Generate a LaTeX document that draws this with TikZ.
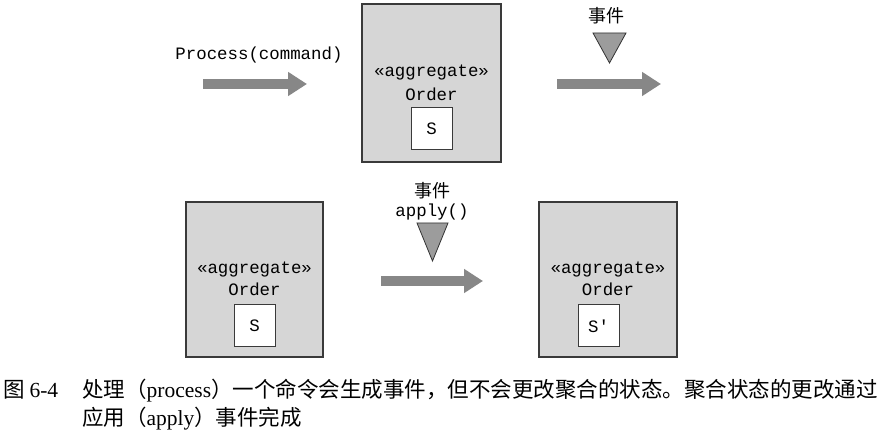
\documentclass[tikz,border=0pt]{standalone}
\usepackage{fontspec}
\setmainfont{Liberation Serif}
\setmonofont{Liberation Mono}
\newfontfamily\cjk{Noto Sans CJK SC}
\usetikzlibrary{arrows.meta}
\definecolor{boxgray}{HTML}{D6D6D6}
\definecolor{boxline}{HTML}{3A3A3A}
\definecolor{arrowgray}{HTML}{878787}
\definecolor{trigray}{HTML}{9C9C9C}
\begin{document}
\begin{tikzpicture}[x=1pt,y=-1pt,
  agg/.style={draw=boxline, fill=boxgray, line width=1.2pt, inner sep=0pt},
  statebox/.style={draw=boxline, fill=white, line width=1pt, minimum width=41pt, minimum height=42pt, inner sep=0pt,
    font=\ttfamily\fontsize{17.4}{20}\selectfont},
  mono/.style={inner sep=0pt, font=\ttfamily\fontsize{17.4}{20}\selectfont},
  evlabel/.style={inner sep=0pt, font=\cjk\fontsize{18}{20}\selectfont},
  fat/.style={draw=arrowgray, line width=10pt, -{Triangle[width=23pt,length=19pt]}},
  tri/.style={draw=black!80, fill=trigray, line width=0.8pt, line join=miter},
  captext/.style={inner sep=0pt, anchor=base west, font=\cjk\fontsize{21.5}{24}\selectfont}
]
\useasboundingbox (0,0) rectangle (891,443);

% top row
\node[agg, minimum width=139pt, minimum height=158pt] (topbox) at (431.5,83) {};
\node[mono] (topstereo) at (431.5,73) {«aggregate»};
\node[mono] (toporder) at (431.5,94) {Order};
\node[statebox] (tops) at (431.5,129) {S};

\node[mono] (cmd) at (259,55) {Process(command)};
\coordinate (a1s) at (203,84);
\coordinate (a1e) at (307,84);
\draw[fat] (a1s) -- (a1e);

\coordinate (a2s) at (557,84);
\coordinate (a2e) at (661,84);
\draw[fat] (a2s) -- (a2e);
\node[evlabel] (ev1) at (606,16) {事件};
\draw[tri] (593,33) -- (626,33) -- (609.5,63) -- cycle;

% bottom row
\node[agg, minimum width=137pt, minimum height=155pt] (lbox) at (254.5,279.5) {};
\node[mono] (lstereo) at (254.5,270) {«aggregate»};
\node[mono] (lorder) at (254.5,289) {Order};
\node[statebox] (ls) at (254.5,326) {S};

\node[agg, minimum width=138pt, minimum height=155pt] (rbox) at (608,279.5) {};
\node[mono] (rstereo) at (608,270) {«aggregate»};
\node[mono] (rorder) at (608,289) {Order};
\node[statebox] (rs) at (598.5,326) {S'};

\node[evlabel] (ev2) at (432,191) {事件};
\node[mono] (apply) at (432,212) {apply()};
\draw[tri] (417,223) -- (448,223) -- (432.5,261) -- cycle;
\coordinate (a3s) at (381,281);
\coordinate (a3e) at (483,281);
\draw[fat] (a3s) -- (a3e);

% caption
\node[captext] (capnum) at (3,397) {图 {\rmfamily 6-4}};
\node[captext] (cap1) at (82,397) {处理（{\rmfamily process}）一个命令会生成事件，但不会更改聚合的状态。聚合状态的更改通过};
\node[captext] (cap2) at (82,425) {应用（{\rmfamily apply}）事件完成};
\end{tikzpicture}
\end{document}
